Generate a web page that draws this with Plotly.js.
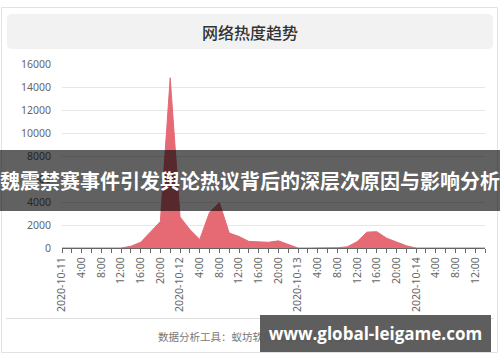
<!DOCTYPE html>
<html>
<head>
<meta charset="utf-8">
<script src="https://cdn.plot.ly/plotly-3.0.1.min.js"></script>
<style>
html,body{margin:0;padding:0;background:#fff;}
#chart{width:500px;height:362px;}
</style>
</head>
<body>
<div id="chart"></div>
<script>
// ---- data (2-hour samples) ----
const times = [
  "2020-10-11 00:00","2020-10-11 02:00","2020-10-11 04:00","2020-10-11 06:00","2020-10-11 08:00","2020-10-11 10:00",
  "2020-10-11 12:00","2020-10-11 14:00","2020-10-11 16:00","2020-10-11 18:00","2020-10-11 20:00","2020-10-11 22:00",
  "2020-10-12 00:00","2020-10-12 02:00","2020-10-12 04:00","2020-10-12 06:00","2020-10-12 08:00","2020-10-12 10:00",
  "2020-10-12 12:00","2020-10-12 14:00","2020-10-12 16:00","2020-10-12 18:00","2020-10-12 20:00","2020-10-12 22:00",
  "2020-10-13 00:00","2020-10-13 02:00","2020-10-13 04:00","2020-10-13 06:00","2020-10-13 08:00","2020-10-13 10:00",
  "2020-10-13 12:00","2020-10-13 14:00","2020-10-13 16:00","2020-10-13 18:00","2020-10-13 20:00","2020-10-13 22:00",
  "2020-10-14 00:00","2020-10-14 02:00","2020-10-14 04:00","2020-10-14 06:00","2020-10-14 08:00","2020-10-14 10:00",
  "2020-10-14 12:00","2020-10-14 14:00"
];
const heat = [
  0, 0, 0, 0, 0, 0,
  0, 150, 500, 1400, 2300, 14800,
  2700, 1600, 750, 3100, 3950, 1300,
  1000, 570, 520, 500, 620, 300,
  0, 0, 0, 0, 30, 100,
  550, 1380, 1420, 850, 520, 200,
  0, 0, 10, 20, 40, 40,
  30, 0
];
const yTicks = [0, 2000, 4000, 6000, 8000, 10000, 12000, 14000, 16000];
const chartTitle = "网络热度趋势";
const bannerText = "魏震禁赛事件引发舆论热议背后的深层次原因与影响分析";
const footerText = "数据分析工具：蚁坊软件鹰眼舆情观察室";
const watermarkText = "www.global-leigame.com";

// tick labels: date at midnight, H:00 every 4 hours, blank otherwise
const tickText = times.map(t => {
  const [d, hm] = t.split(" ");
  const h = parseInt(hm.split(":")[0], 10);
  if (h === 0) return d;
  if (h % 4 === 0) return h + ":00";
  return "";
});

// ---- geometry helpers (pixel -> paper) ----
const L = 62, R = 15, T = 64, B = 114;
const PW = 500 - L - R, PH = 362 - T - B;
const px = x => (x - L) / PW;
const py = y => (362 - B - y) / PH;
function roundRect(x0, y0, x1, y1, r) {
  const P = (x, y) => px(x) + "," + py(y);
  return "M" + P(x0 + r, y0) + " L" + P(x1 - r, y0) + " Q" + P(x1, y0) + " " + P(x1, y0 + r) +
    " L" + P(x1, y1 - r) + " Q" + P(x1, y1) + " " + P(x1 - r, y1) +
    " L" + P(x0 + r, y1) + " Q" + P(x0, y1) + " " + P(x0, y1 - r) +
    " L" + P(x0, y0 + r) + " Q" + P(x0, y0) + " " + P(x0 + r, y0) + " Z";
}

const cjk = '"Noto Sans CJK SC", "Noto Sans", sans-serif';
const numFont = '"Noto Sans", "Open Sans", sans-serif';

const trace = {
  x: times,
  y: heat,
  type: "scatter",
  mode: "lines",
  fill: "tozeroy",
  line: {color: "#e56a74", width: 1},
  fillcolor: "#e56a74",
  hoverinfo: "skip"
};

const layout = {
  width: 500, height: 362,
  margin: {l: L, r: R, t: T, b: B, pad: 0},
  paper_bgcolor: "#fff",
  plot_bgcolor: "#fff",
  showlegend: false,
  xaxis: {
    type: "date",
    range: [times[0], times[times.length - 1]],
    tickmode: "array",
    tickvals: times,
    ticktext: tickText,
    tickangle: -90,
    ticks: "outside",
    ticklen: 4,
    tickcolor: "#666",
    showline: true,
    linecolor: "#666",
    linewidth: 1,
    showgrid: false,
    zeroline: false,
    tickfont: {family: numFont, size: 10.5, color: "#666"},
    fixedrange: true
  },
  yaxis: {
    range: [0, 16000],
    tickmode: "array",
    tickvals: yTicks,
    ticktext: yTicks.map(String),
    showgrid: true,
    gridcolor: "#e6e6e6",
    gridwidth: 1,
    zeroline: false,
    showline: false,
    ticks: "",
    ticklabelstandoff: 10,
    tickfont: {family: numFont, size: 10.5, color: "#666"},
    fixedrange: true
  },
  shapes: [
    {type: "rect", xref: "paper", yref: "paper", x0: px(1.5), x1: px(497.5), y0: py(7.5), y1: py(352.5),
     line: {color: "#e2e2e2", width: 1}, fillcolor: "rgba(0,0,0,0)", layer: "below"},
    {type: "path", xref: "paper", yref: "paper", path: roundRect(7, 14, 493, 49, 5),
     line: {width: 0}, fillcolor: "#f2f2f2", layer: "below"},
    {type: "line", xref: "paper", yref: "paper", x0: px(6), x1: px(494), y0: py(318.5), y1: py(318.5),
     line: {color: "#dedede", width: 1}, layer: "below"}
  ],
  annotations: [
    {xref: "paper", yref: "paper", x: px(250), y: py(32), xanchor: "center", yanchor: "middle",
     text: chartTitle, showarrow: false, font: {family: cjk, size: 16, color: "#333", weight: 500}},
    {xref: "paper", yref: "paper", x: px(156), y: py(336), xanchor: "left", yanchor: "middle",
     text: footerText, showarrow: false, font: {family: cjk, size: 10.5, color: "#777"}},
    {xref: "paper", yref: "paper", x: px(250), y: py(180.5), xanchor: "center", yanchor: "middle",
     text: bannerText, showarrow: false, width: 500, height: 61, borderpad: 0, borderwidth: 0,
     bgcolor: "rgba(0,0,0,0.62)", font: {family: cjk, size: 20, color: "#fff", weight: 700}},
    {xref: "paper", yref: "paper", x: px(375.5), y: py(333.5), xanchor: "center", yanchor: "middle",
     text: watermarkText, showarrow: false, width: 231, height: 37, borderpad: 0, borderwidth: 0,
     bgcolor: "rgba(85,85,85,0.95)", font: {family: '"Open Sans", "Noto Sans", sans-serif', size: 17, color: "#fff", weight: 700}}
  ]
};

Plotly.newPlot("chart", [trace], layout, {displayModeBar: false, staticPlot: true});
</script>
</body>
</html>
